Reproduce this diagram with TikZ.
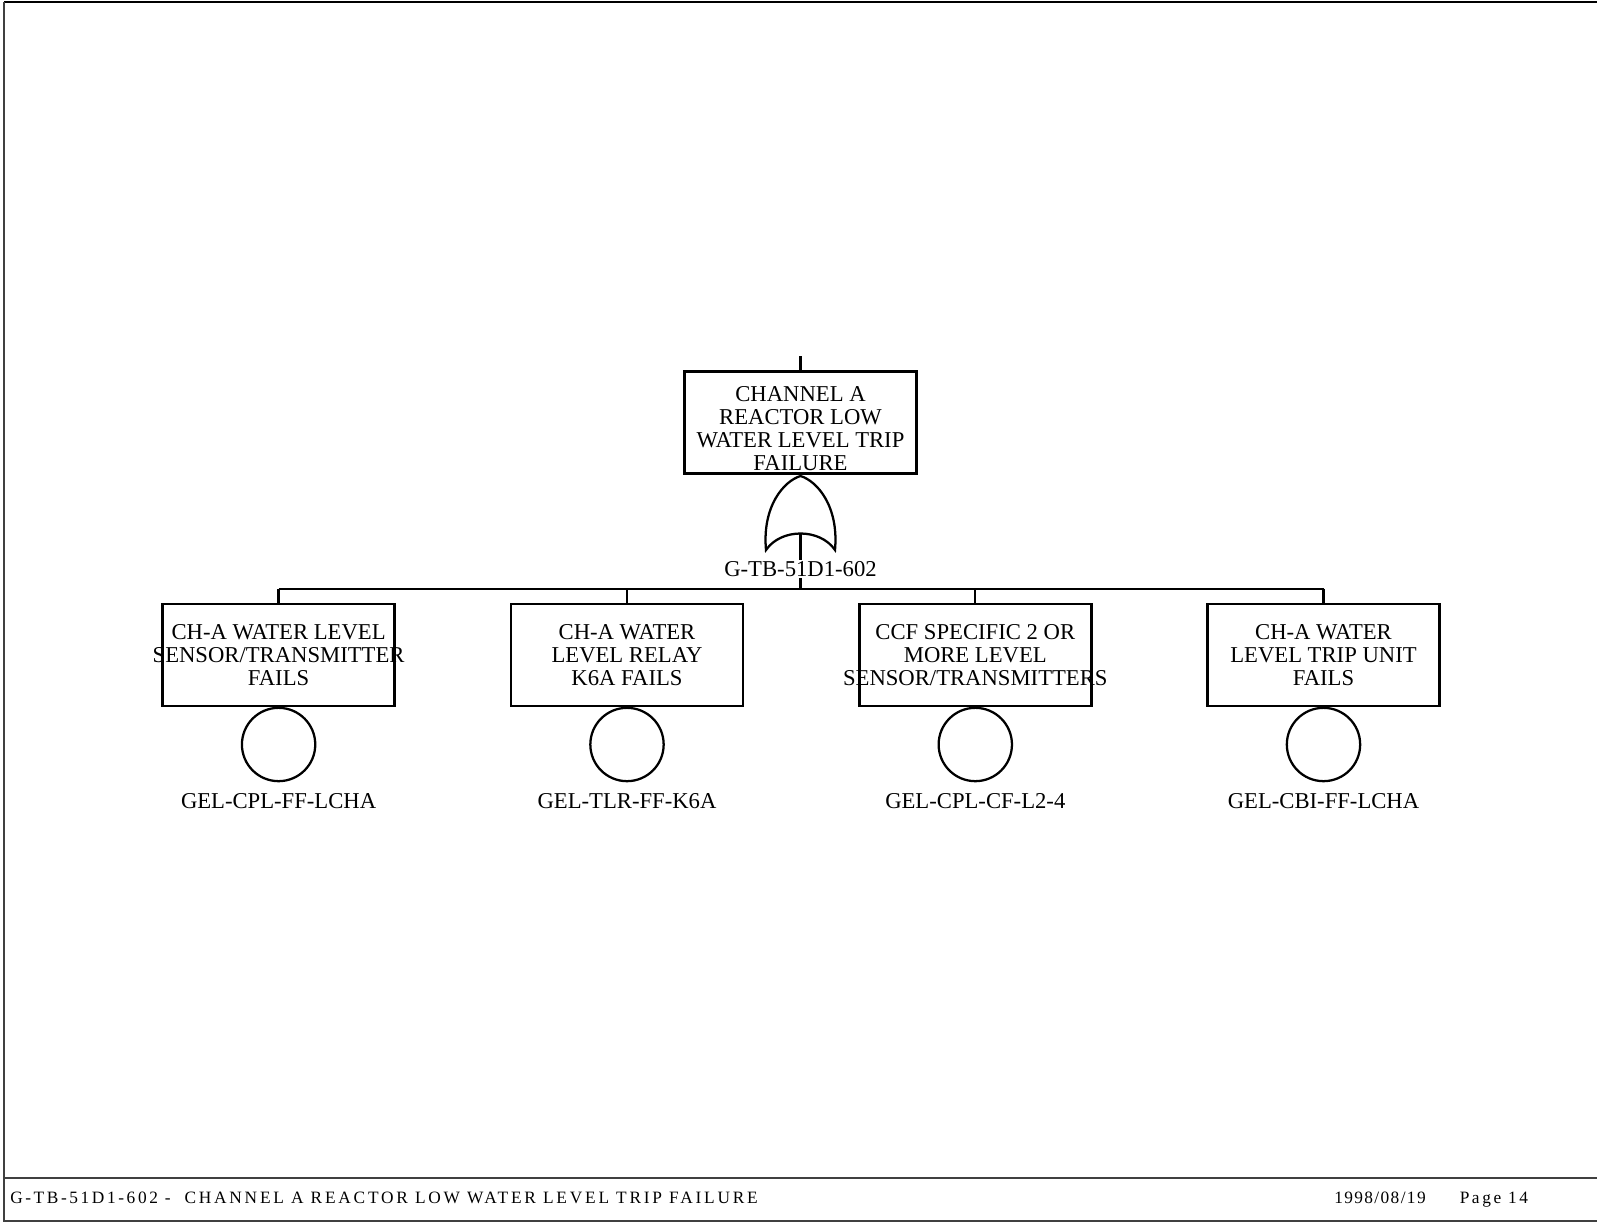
\documentclass[tikz,border=0pt]{standalone}
\usepackage{fontspec}
\setmainfont{Liberation Serif}
\newfontfamily\footfont[LetterSpace=8]{Liberation Serif}
\newfontfamily\foottitlefont[LetterSpace=15]{Liberation Serif}
\newfontfamily\foottitlewide[LetterSpace=16]{Liberation Serif}
\begin{document}
\begin{tikzpicture}[x=0.75pt,y=-0.75pt,
  evbox/.style={draw,line width=1.9pt,minimum width=174pt,minimum height=76.5pt,inner sep=0pt},
  boxtext/.style={align=center,inner sep=0pt,font=\fontsize{17}{17.2}\selectfont},
  lbl/.style={inner sep=1pt,font=\fontsize{17}{17.2}\selectfont},
  basic/.style={draw,circle,line width=1.7pt,minimum size=55pt,inner sep=0pt},
  conn/.style={line width=1.7pt},
  gate/.style={line width=1.7pt,fill=white},
  frame/.style={line width=1pt,draw=black!75},
  foot/.style={anchor=base west,inner sep=0pt,font=\footfont\fontsize{13}{15}\selectfont}]
\path[use as bounding box] (0,0) rectangle (1597,1225);
% frame
\coordinate (fTL) at (4,2);
\coordinate (fTR) at (1597,2);
\coordinate (fBL) at (4,1221);
\coordinate (fBR) at (1597,1221);
\coordinate (fML) at (4,1178);
\coordinate (fMR) at (1597,1178);
\draw[line width=1.2pt] (fTL) -- (fTR);
\draw[frame] (fTL) -- (fBL) -- (fBR);
\draw[frame] (fML) -- (fMR);
% top event
\node[evbox] (top) at (800.5,422.7) {};
\node[boxtext] (toptext) at (800.5,428.5) {CHANNEL A\\REACTOR LOW\\WATER LEVEL TRIP\\FAILURE};
\coordinate (stub) at (800.5,356);
\draw[conn] (stub) -- (top.north);
% OR gate
\coordinate (gl) at (766,550);
\coordinate (gr) at (835,550);
\coordinate (gtop) at (800.5,476);
\coordinate (gapex) at (800.5,533.5);
\coordinate (bar) at (800.5,588.7);
\draw[gate] (gl) .. controls (762,506) and (784,481) .. (gtop)
  .. controls (817,481) and (839,506) .. (gr)
  .. controls (820,528) and (781,528) .. (gl) -- cycle;
\draw[conn] (gapex) -- (gapex |- bar);
\node[lbl,fill=white] (glabel) at (800.5,568.8) {G-TB-51D1-602};
% children
\node[evbox] (b1) at (278.6,655) {};
\node[evbox] (b2) at (627,655) {};
\node[evbox] (b3) at (975.3,655) {};
\node[evbox] (b4) at (1323.5,655) {};
\node[boxtext] (t1) at (b1.center) {CH-A WATER LEVEL\\SENSOR/TRANSMITTER\\FAILS};
\node[boxtext] (t2) at (b2.center) {CH-A WATER\\LEVEL RELAY\\K6A FAILS};
\node[boxtext] (t3) at (b3.center) {CCF SPECIFIC 2 OR\\MORE LEVEL\\SENSOR/TRANSMITTERS};
\node[boxtext] (t4) at (b4.center) {CH-A WATER\\LEVEL TRIP UNIT\\FAILS};
\draw[conn] (b1.north |- bar) -- (b4.north |- bar);
\foreach \b in {b1,b2,b3,b4} \draw[conn] (\b.north |- bar) -- (\b.north);
% basic events
\node[basic] (e1) at (278.6,744.5) {};
\node[basic] (e2) at (627,744.5) {};
\node[basic] (e3) at (975.3,744.5) {};
\node[basic] (e4) at (1323.5,744.5) {};
\node[lbl] (l1) at (278.6,801.5) {GEL-CPL-FF-LCHA};
\node[lbl] (l2) at (627,801.5) {GEL-TLR-FF-K6A};
\node[lbl] (l3) at (975.3,801.5) {GEL-CPL-CF-L2-4};
\node[lbl] (l4) at (1323.5,801.5) {GEL-CBI-FF-LCHA};
% footer
\node[foot,font=\foottitlefont\fontsize{13}{15}\selectfont] (ftitle) at (10,1203.5) {G-TB-51D1-602 -\ \ {\foottitlewide CHANNEL A REACTOR LOW WATER LEVEL TRIP FAILURE}};
\node[foot] (fdate) at (1334,1203.5) {1998/08/19};
\node[foot,font=\foottitlefont\fontsize{13}{15}\selectfont] (fpage) at (1459.5,1203.5) {Page 14};
\end{tikzpicture}
\end{document}
